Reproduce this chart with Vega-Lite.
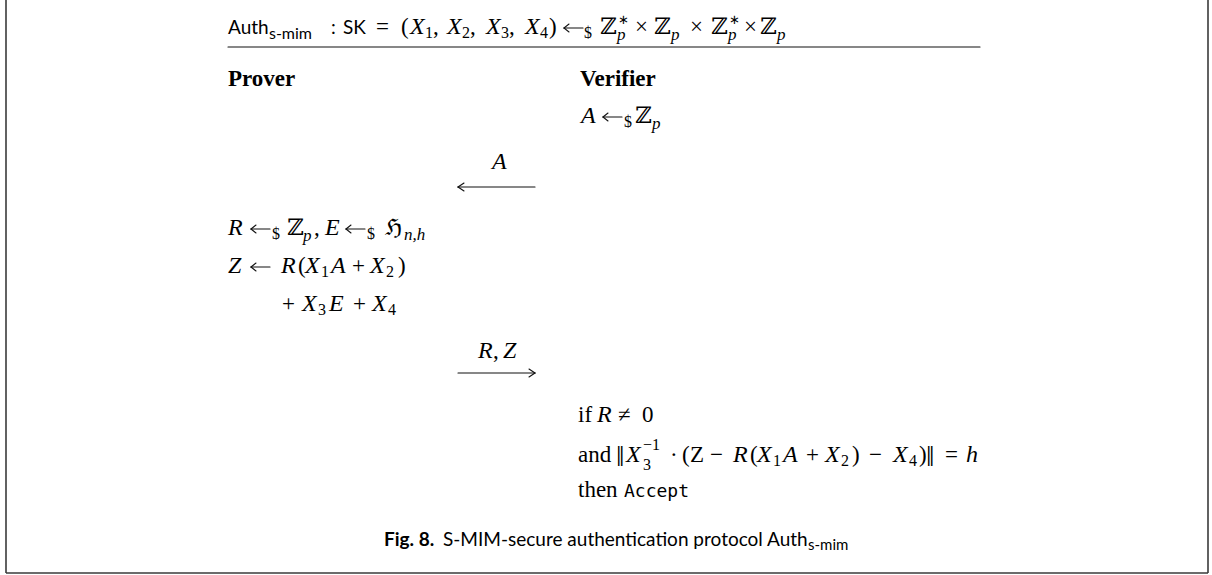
{
  "$schema": "https://vega.github.io/schema/vega-lite/v6.json",
  "width": 1212,
  "height": 575,
  "autosize": "none",
  "padding": 0,
  "background": "white",
  "config": {"view": {"stroke": null}},
  "datasets": {
    "lines": [
      {"x": 6, "y": 0, "x2": 6, "y2": 573, "k": "frame"},
      {"x": 6, "y": 573, "x2": 1208, "y2": 573, "k": "frame"},
      {"x": 1208, "y": 0, "x2": 1208, "y2": 573, "k": "frame"},
      {"x": 228, "y": 47, "x2": 980, "y2": 47, "k": "ink"},
      {"x": 458, "y": 187, "x2": 535, "y2": 187, "k": "ink"},
      {"x": 458, "y": 187, "x2": 464, "y2": 183, "k": "ink"},
      {"x": 458, "y": 187, "x2": 464, "y2": 191, "k": "ink"},
      {"x": 458, "y": 373, "x2": 535, "y2": 373, "k": "ink"},
      {"x": 535, "y": 373, "x2": 529, "y2": 369, "k": "ink"},
      {"x": 535, "y": 373, "x2": 529, "y2": 377, "k": "ink"},

      {"x": 564, "y": 28, "x2": 583, "y2": 28, "k": "ink"},
      {"x": 564, "y": 28, "x2": 569, "y2": 24, "k": "ink"},
      {"x": 564, "y": 28, "x2": 569, "y2": 32, "k": "ink"},

      {"x": 603, "y": 117, "x2": 622, "y2": 117, "k": "ink"},
      {"x": 603, "y": 117, "x2": 608, "y2": 113, "k": "ink"},
      {"x": 603, "y": 117, "x2": 608, "y2": 121, "k": "ink"},

      {"x": 251, "y": 229, "x2": 270, "y2": 229, "k": "ink"},
      {"x": 251, "y": 229, "x2": 256, "y2": 225, "k": "ink"},
      {"x": 251, "y": 229, "x2": 256, "y2": 233, "k": "ink"},

      {"x": 346, "y": 229, "x2": 365, "y2": 229, "k": "ink"},
      {"x": 346, "y": 229, "x2": 351, "y2": 225, "k": "ink"},
      {"x": 346, "y": 229, "x2": 351, "y2": 233, "k": "ink"},

      {"x": 251, "y": 267, "x2": 270, "y2": 267, "k": "ink"},
      {"x": 251, "y": 267, "x2": 256, "y2": 263, "k": "ink"},
      {"x": 251, "y": 267, "x2": 256, "y2": 271, "k": "ink"}
    ],
    "texts": [
      {"x": 228, "y": 34, "s": "Auth", "k": "sf"},
      {"x": 269, "y": 39, "s": "s-mim", "k": "sfsub"},
      {"x": 331, "y": 34, "s": ":", "k": "sf"},
      {"x": 343, "y": 34, "s": "SK", "k": "sf"},
      {"x": 376, "y": 34, "s": "=", "k": "rm"},
      {"x": 401, "y": 34, "s": "(", "k": "rm"},
      {"x": 410, "y": 34, "s": "X", "k": "it"},
      {"x": 425, "y": 38, "s": "1", "k": "sub"},
      {"x": 433, "y": 34, "s": ",", "k": "rm"},
      {"x": 447, "y": 34, "s": "X", "k": "it"},
      {"x": 462, "y": 38, "s": "2", "k": "sub"},
      {"x": 470, "y": 34, "s": ",", "k": "rm"},
      {"x": 486, "y": 34, "s": "X", "k": "it"},
      {"x": 501, "y": 38, "s": "3", "k": "sub"},
      {"x": 509, "y": 34, "s": ",", "k": "rm"},
      {"x": 525, "y": 34, "s": "X", "k": "it"},
      {"x": 540, "y": 38, "s": "4", "k": "sub"},
      {"x": 549, "y": 34, "s": ")", "k": "rm"},
      {"x": 584, "y": 38, "s": "$", "k": "sub"},
      {"x": 600, "y": 34, "s": "ℤ", "k": "rm"},
      {"x": 617, "y": 40, "s": "p", "k": "itsub"},
      {"x": 618, "y": 24, "s": "∗", "k": "star"},
      {"x": 635, "y": 34, "s": "×", "k": "rm"},
      {"x": 654, "y": 34, "s": "ℤ", "k": "rm"},
      {"x": 671, "y": 40, "s": "p", "k": "itsub"},
      {"x": 690, "y": 34, "s": "×", "k": "rm"},
      {"x": 711, "y": 34, "s": "ℤ", "k": "rm"},
      {"x": 728, "y": 40, "s": "p", "k": "itsub"},
      {"x": 729, "y": 24, "s": "∗", "k": "star"},
      {"x": 744, "y": 34, "s": "×", "k": "rm"},
      {"x": 760, "y": 34, "s": "ℤ", "k": "rm"},
      {"x": 777, "y": 40, "s": "p", "k": "itsub"},

      {"x": 228, "y": 86, "s": "Prover", "k": "bf"},
      {"x": 580, "y": 86, "s": "Verifier", "k": "bf"},

      {"x": 581, "y": 123, "s": "A", "k": "it"},
      {"x": 624, "y": 127, "s": "$", "k": "sub"},
      {"x": 635, "y": 123, "s": "ℤ", "k": "rm"},
      {"x": 652, "y": 129, "s": "p", "k": "itsub"},

      {"x": 492, "y": 169, "s": "A", "k": "it"},

      {"x": 228, "y": 235, "s": "R", "k": "it"},
      {"x": 272, "y": 239, "s": "$", "k": "sub"},
      {"x": 287, "y": 235, "s": "ℤ", "k": "rm"},
      {"x": 303, "y": 241, "s": "p", "k": "itsub"},
      {"x": 314, "y": 235, "s": ",", "k": "rm"},
      {"x": 325, "y": 235, "s": "E", "k": "it"},
      {"x": 367, "y": 239, "s": "$", "k": "sub"},
      {"x": 385, "y": 235, "s": "ℌ", "k": "rm"},
      {"x": 404, "y": 240, "s": "n,h", "k": "itsub"},

      {"x": 228, "y": 273, "s": "Z", "k": "it"},
      {"x": 281, "y": 273, "s": "R", "k": "it"},
      {"x": 298, "y": 273, "s": "(", "k": "rm"},
      {"x": 305, "y": 273, "s": "X", "k": "it"},
      {"x": 321, "y": 277, "s": "1", "k": "sub"},
      {"x": 331, "y": 273, "s": "A", "k": "it"},
      {"x": 352, "y": 273, "s": "+", "k": "rm"},
      {"x": 370, "y": 273, "s": "X", "k": "it"},
      {"x": 386, "y": 277, "s": "2", "k": "sub"},
      {"x": 398, "y": 273, "s": ")", "k": "rm"},

      {"x": 282, "y": 311, "s": "+", "k": "rm"},
      {"x": 302, "y": 311, "s": "X", "k": "it"},
      {"x": 318, "y": 315, "s": "3", "k": "sub"},
      {"x": 329, "y": 311, "s": "E", "k": "it"},
      {"x": 353, "y": 311, "s": "+", "k": "rm"},
      {"x": 372, "y": 311, "s": "X", "k": "it"},
      {"x": 388, "y": 315, "s": "4", "k": "sub"},

      {"x": 478, "y": 358, "s": "R", "k": "it"},
      {"x": 493, "y": 358, "s": ",", "k": "rm"},
      {"x": 503, "y": 358, "s": "Z", "k": "it"},

      {"x": 578, "y": 422, "s": "if", "k": "rm"},
      {"x": 597, "y": 422, "s": "R", "k": "it"},
      {"x": 618, "y": 422, "s": "≠", "k": "rm"},
      {"x": 642, "y": 422, "s": "0", "k": "rm"},

      {"x": 578, "y": 462, "s": "and", "k": "rm"},
      {"x": 616, "y": 466, "s": "‖", "k": "big"},
      {"x": 626, "y": 462, "s": "X", "k": "it"},
      {"x": 643, "y": 450, "s": "−1", "k": "sub"},
      {"x": 643, "y": 470, "s": "3", "k": "sub"},
      {"x": 670, "y": 462, "s": "·", "k": "rm"},
      {"x": 682, "y": 462, "s": "(", "k": "rm"},
      {"x": 690, "y": 462, "s": "Z", "k": "rm"},
      {"x": 710, "y": 462, "s": "−", "k": "rm"},
      {"x": 733, "y": 462, "s": "R", "k": "it"},
      {"x": 750, "y": 462, "s": "(", "k": "rm"},
      {"x": 757, "y": 462, "s": "X", "k": "it"},
      {"x": 773, "y": 466, "s": "1", "k": "sub"},
      {"x": 783, "y": 462, "s": "A", "k": "it"},
      {"x": 806, "y": 462, "s": "+", "k": "rm"},
      {"x": 825, "y": 462, "s": "X", "k": "it"},
      {"x": 841, "y": 466, "s": "2", "k": "sub"},
      {"x": 852, "y": 462, "s": ")", "k": "rm"},
      {"x": 869, "y": 462, "s": "−", "k": "rm"},
      {"x": 893, "y": 462, "s": "X", "k": "it"},
      {"x": 909, "y": 466, "s": "4", "k": "sub"},
      {"x": 919, "y": 462, "s": ")", "k": "rm"},
      {"x": 926, "y": 466, "s": "‖", "k": "big"},
      {"x": 945, "y": 462, "s": "=", "k": "rm"},
      {"x": 966, "y": 462, "s": "h", "k": "it"},

      {"x": 578, "y": 497, "s": "then", "k": "rm"},
      {"x": 624, "y": 497, "s": "Accept", "k": "tt"},

      {"x": 384, "y": 546, "s": "Fig. 8.", "k": "capbf"},
      {"x": 443, "y": 546, "s": "S-MIM-secure authentication protocol Auth", "k": "cap"},
      {"x": 808, "y": 550, "s": "s-mim", "k": "capsub"}
    ]
  },
  "encoding": {
    "x": {"field": "x", "type": "quantitative", "scale": {"domain": [0, 1212], "nice": false, "zero": false}, "axis": null},
    "y": {"field": "y", "type": "quantitative", "scale": {"domain": [0, 575], "reverse": true, "nice": false, "zero": false}, "axis": null}
  },
  "layer": [
    {"data": {"name": "lines"}, "transform": [{"filter": "datum.k == 'frame'"}],
     "mark": {"type": "rule", "stroke": "#3a3a3a", "strokeWidth": 1.6},
     "encoding": {"x2": {"field": "x2"}, "y2": {"field": "y2"}}},
    {"data": {"name": "lines"}, "transform": [{"filter": "datum.k == 'ink'"}],
     "mark": {"type": "rule", "stroke": "#111", "strokeWidth": 1.1, "strokeCap": "round"},
     "encoding": {"x2": {"field": "x2"}, "y2": {"field": "y2"}}},
    {"data": {"name": "texts"}, "transform": [{"filter": "datum.k == 'it'"}],
     "mark": {"type": "text", "align": "left", "baseline": "alphabetic", "font": "Liberation Serif, DejaVu Serif", "fontStyle": "italic", "fontSize": 24, "fill": "#000"},
     "encoding": {"text": {"field": "s"}}},
    {"data": {"name": "texts"}, "transform": [{"filter": "datum.k == 'rm'"}],
     "mark": {"type": "text", "align": "left", "baseline": "alphabetic", "font": "Liberation Serif, DejaVu Serif", "fontSize": 23, "fill": "#000"},
     "encoding": {"text": {"field": "s"}}},
    {"data": {"name": "texts"}, "transform": [{"filter": "datum.k == 'big'"}],
     "mark": {"type": "text", "align": "left", "baseline": "alphabetic", "font": "Liberation Serif, DejaVu Serif", "fontSize": 30, "fill": "#000"},
     "encoding": {"text": {"field": "s"}}},
    {"data": {"name": "texts"}, "transform": [{"filter": "datum.k == 'sub'"}],
     "mark": {"type": "text", "align": "left", "baseline": "alphabetic", "font": "Liberation Serif, DejaVu Serif", "fontSize": 16, "fill": "#000"},
     "encoding": {"text": {"field": "s"}}},
    {"data": {"name": "texts"}, "transform": [{"filter": "datum.k == 'star'"}],
     "mark": {"type": "text", "align": "left", "baseline": "alphabetic", "font": "DejaVu Sans", "fontSize": 13, "fill": "#000"},
     "encoding": {"text": {"field": "s"}}},
    {"data": {"name": "texts"}, "transform": [{"filter": "datum.k == 'itsub'"}],
     "mark": {"type": "text", "align": "left", "baseline": "alphabetic", "font": "Liberation Serif, DejaVu Serif", "fontStyle": "italic", "fontSize": 17, "fill": "#000"},
     "encoding": {"text": {"field": "s"}}},
    {"data": {"name": "texts"}, "transform": [{"filter": "datum.k == 'bf'"}],
     "mark": {"type": "text", "align": "left", "baseline": "alphabetic", "font": "Liberation Serif", "fontWeight": "bold", "fontSize": 23, "fill": "#000"},
     "encoding": {"text": {"field": "s"}}},
    {"data": {"name": "texts"}, "transform": [{"filter": "datum.k == 'sf'"}],
     "mark": {"type": "text", "align": "left", "baseline": "alphabetic", "font": "Lato", "fontSize": 19, "fill": "#000"},
     "encoding": {"text": {"field": "s"}}},
    {"data": {"name": "texts"}, "transform": [{"filter": "datum.k == 'sfsub'"}],
     "mark": {"type": "text", "align": "left", "baseline": "alphabetic", "font": "Lato", "fontSize": 16, "fill": "#000"},
     "encoding": {"text": {"field": "s"}}},
    {"data": {"name": "texts"}, "transform": [{"filter": "datum.k == 'tt'"}],
     "mark": {"type": "text", "align": "left", "baseline": "alphabetic", "font": "DejaVu Sans Mono", "fontSize": 18, "fill": "#000"},
     "encoding": {"text": {"field": "s"}}},
    {"data": {"name": "texts"}, "transform": [{"filter": "datum.k == 'cap'"}],
     "mark": {"type": "text", "align": "left", "baseline": "alphabetic", "font": "Lato", "fontSize": 19, "fill": "#000"},
     "encoding": {"text": {"field": "s"}}},
    {"data": {"name": "texts"}, "transform": [{"filter": "datum.k == 'capbf'"}],
     "mark": {"type": "text", "align": "left", "baseline": "alphabetic", "font": "Lato", "fontWeight": "bold", "fontSize": 19, "fill": "#000"},
     "encoding": {"text": {"field": "s"}}},
    {"data": {"name": "texts"}, "transform": [{"filter": "datum.k == 'capsub'"}],
     "mark": {"type": "text", "align": "left", "baseline": "alphabetic", "font": "Lato", "fontSize": 15, "fill": "#000"},
     "encoding": {"text": {"field": "s"}}}
  ]
}
